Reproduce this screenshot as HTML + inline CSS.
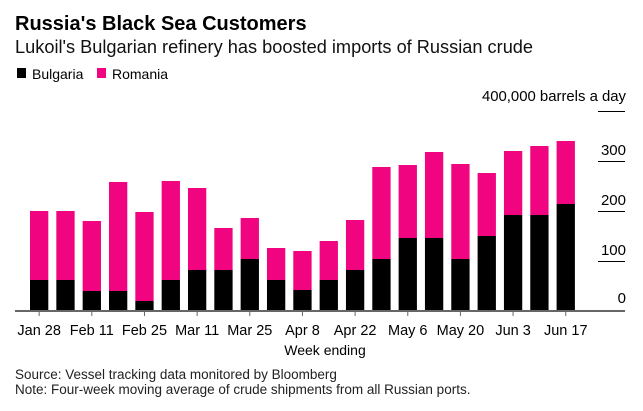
<!DOCTYPE html><html><head><style>body{margin:0;background:#fff}svg text{font-family:"Liberation Sans",Arial,sans-serif}</style></head><body>
<svg width="643" height="406" xmlns="http://www.w3.org/2000/svg">
<rect width="643" height="406" fill="#fff"/>
<text x="15" y="30" font-size="20" font-weight="bold" fill="#000">Russia's Black Sea Customers</text>
<text x="15" y="53" font-size="18.2" fill="#111">Lukoil's Bulgarian refinery has boosted imports of Russian crude</text>
<rect x="17" y="68" width="9" height="10" fill="#000"/><text x="32" y="79" font-size="14">Bulgaria</text>
<rect x="97" y="68" width="9" height="10" fill="#f0047f"/><text x="112" y="79" font-size="14">Romania</text>
<text x="626" y="101" font-size="14.9" text-anchor="end">400,000 barrels a day</text>
<g stroke="#000" stroke-width="1"><line x1="598" x2="625" y1="111.5" y2="111.5"/><line x1="598" x2="625" y1="161.5" y2="161.5"/><line x1="598" x2="625" y1="211.5" y2="211.5"/><line x1="598" x2="625" y1="261.5" y2="261.5"/></g>
<g font-size="15" text-anchor="end"><text x="626" y="155">300</text><text x="626" y="205">200</text><text x="626" y="255">100</text><text x="626" y="303">0</text></g>
<g id="bars"></g>
<line x1="15" x2="625" y1="311" y2="311" stroke="#666" stroke-width="2"/>
<g id="ticks" stroke="#666" stroke-width="1"></g>
<g font-size="14.5" text-anchor="middle" id="xl"></g>
<text x="325" y="355" font-size="14" text-anchor="middle">Week ending</text>
<text x="15" y="379" font-size="13.5" fill="#222">Source: Vessel tracking data monitored by Bloomberg</text>
<text x="15" y="394" font-size="13.5" fill="#222">Note: Four-week moving average of crude shipments from all Russian ports.</text>
<script>
var tot=[211,211,221,182,212,181,188,228,218,248,251,241,220,167,165,152,164,173,151,146,141];
var blk=[280,280,291,291,301,280,270,270,259,280,290,280,270,259,238,238,259,236,215,215,204];
var labs=["Jan 28","Feb 11","Feb 25","Mar 11","Mar 25","Apr 8","Apr 22","May 6","May 20","Jun 3","Jun 17"];
var ns="http://www.w3.org/2000/svg",g=document.getElementById("bars"),t=document.getElementById("ticks"),xl=document.getElementById("xl");
function el(n,a,p){var e=document.createElementNS(ns,n);for(var k in a)e.setAttribute(k,a[k]);p.appendChild(e);return e;}
for(var i=0;i<21;i++){var x=30+i*26.33;
el("rect",{x:x,y:tot[i],width:18.3,height:blk[i]-tot[i],fill:"#f0047f"},g);
el("rect",{x:x,y:blk[i],width:18.3,height:311-blk[i],fill:"#000"},g);
if(i%2==0){var c=x+9.15;el("line",{x1:c,x2:c,y1:311,y2:316},t);var tx=el("text",{x:c,y:335},xl);tx.textContent=labs[i/2];}}
</script>
</svg></body></html>
